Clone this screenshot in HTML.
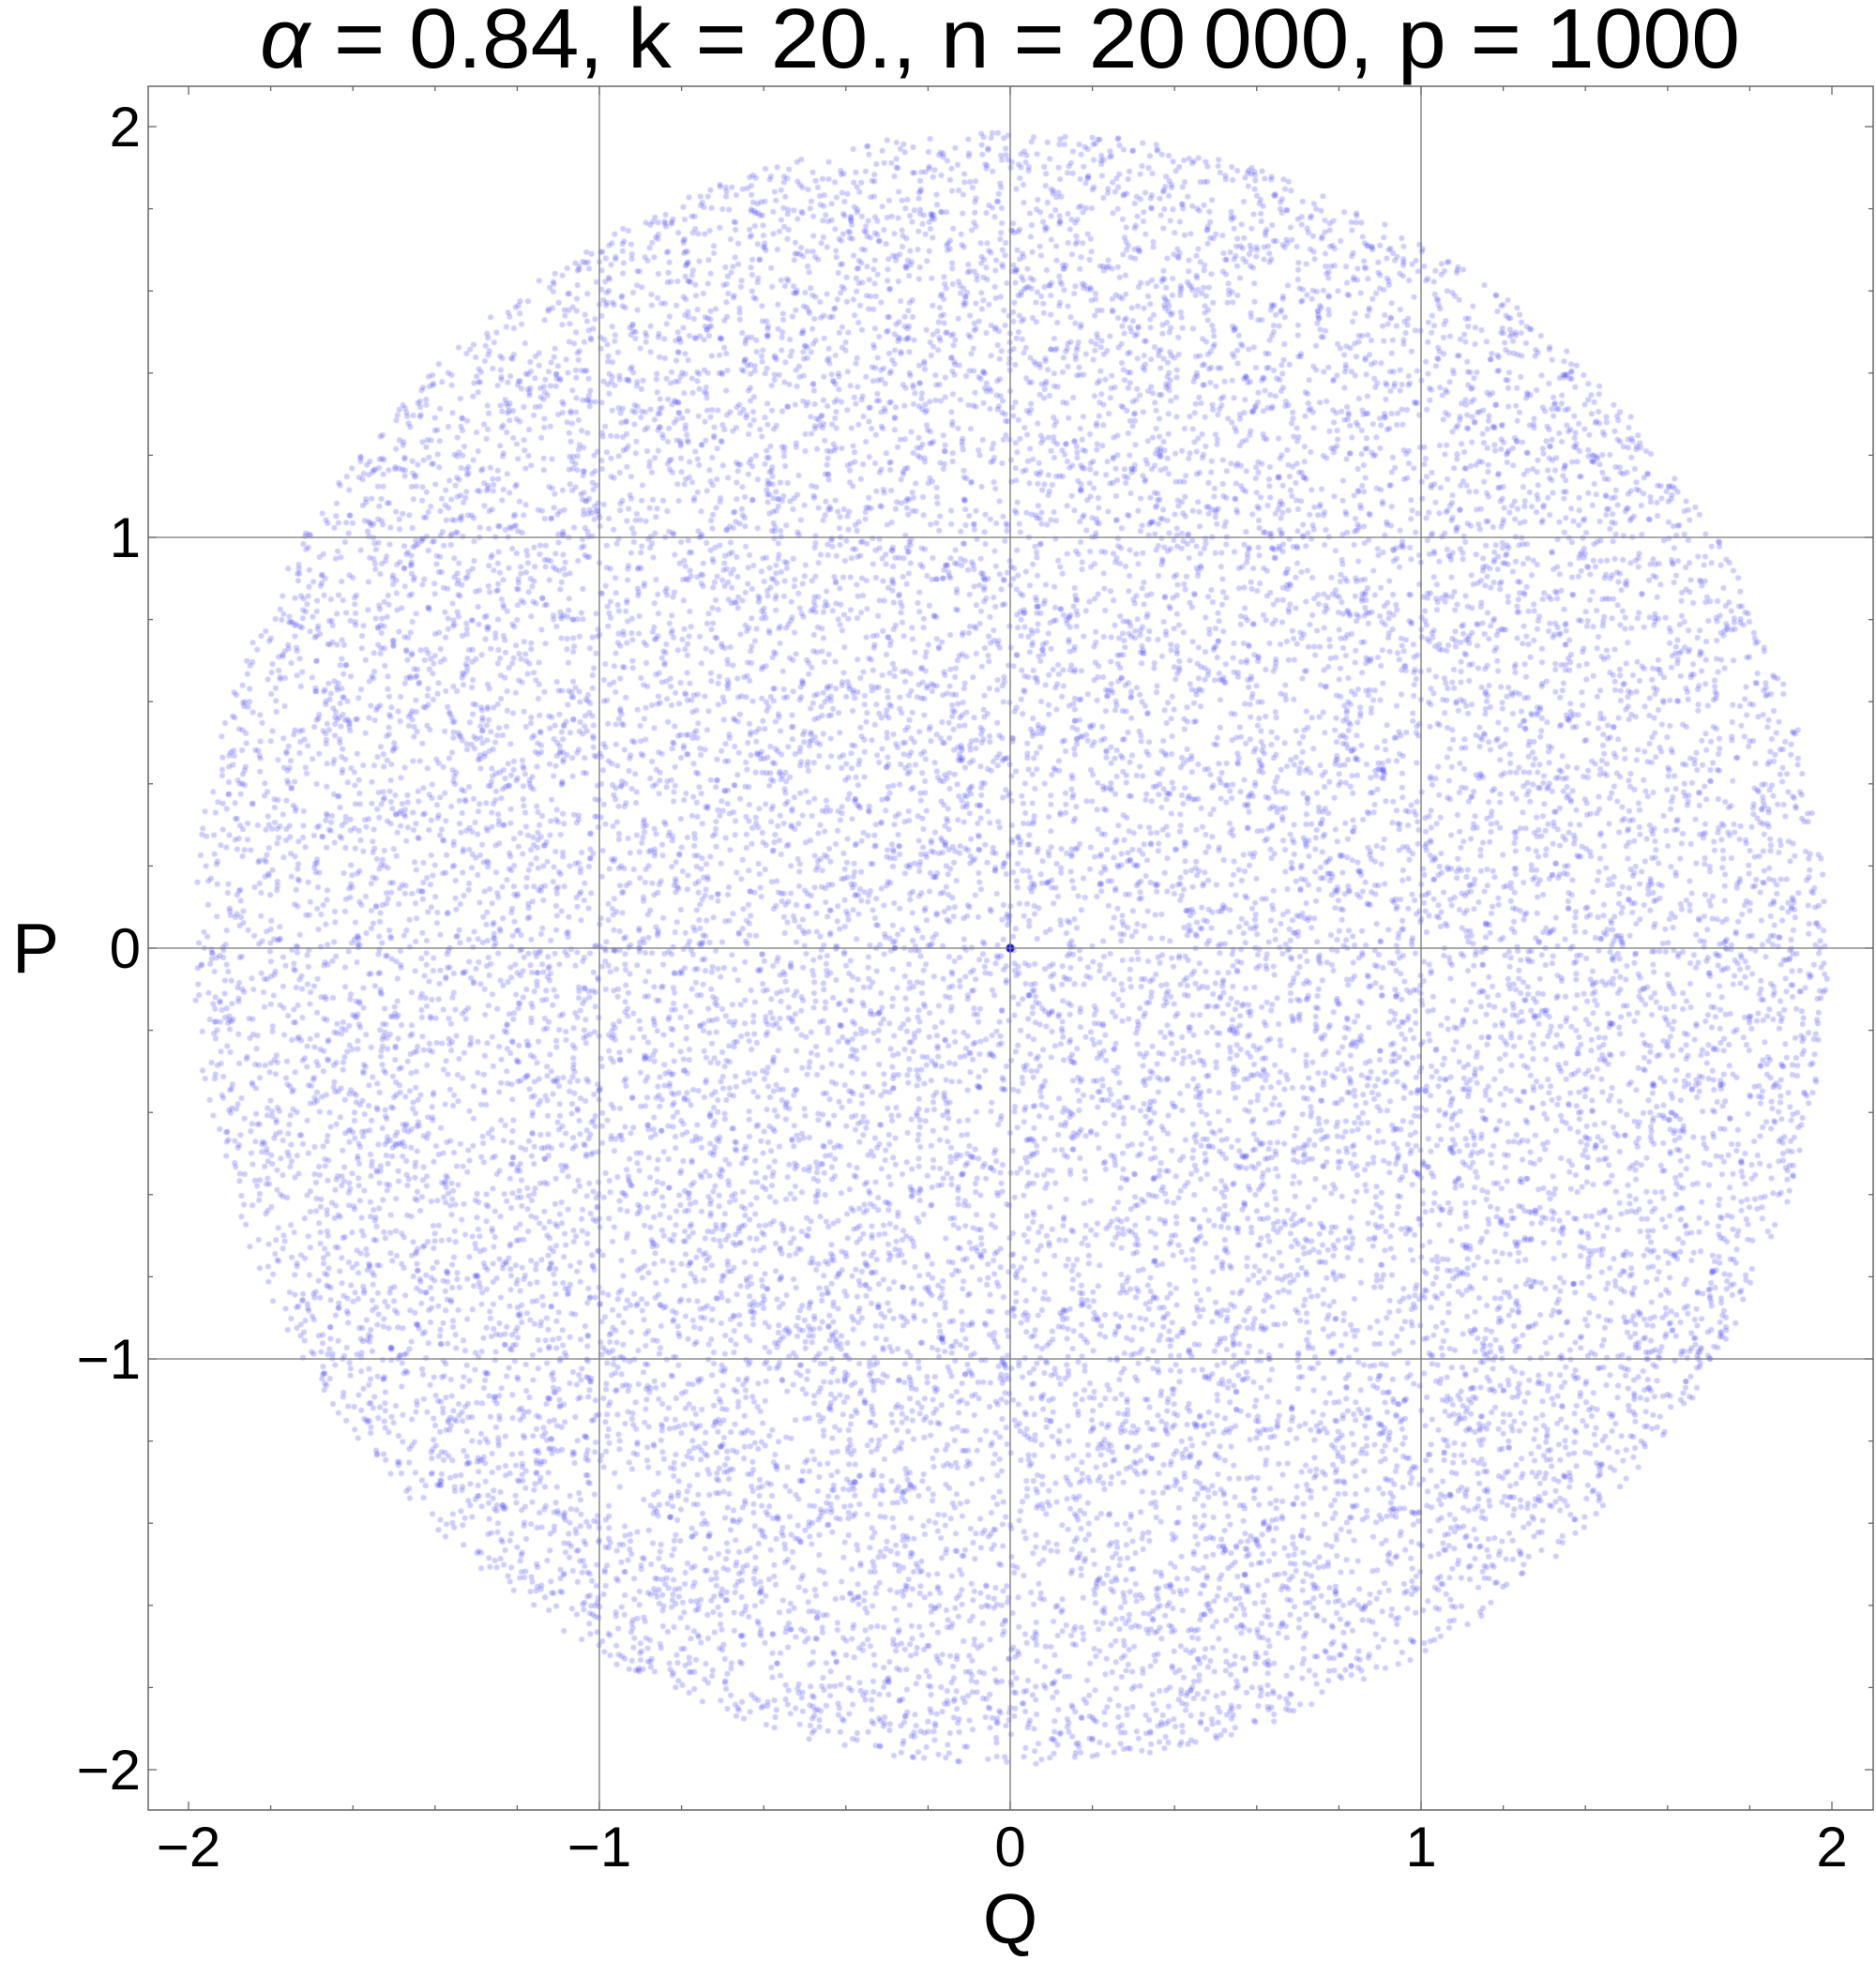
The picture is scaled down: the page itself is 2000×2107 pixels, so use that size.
<!DOCTYPE html>
<html><head><meta charset="utf-8"><style>
html,body{margin:0;padding:0;background:#fff;}
#wrap{position:relative;width:2000px;height:2107px;}
canvas,svg{position:absolute;left:0;top:0;}
text{font-family:"Liberation Sans",sans-serif;fill:#000;}
</style></head><body>
<div id="wrap">
<canvas id="cv" width="2000" height="2107"></canvas>
<svg id="sv" width="2000" height="2107"></svg>
</div>
<script>
// data
const params = {alpha: 0.84, k: 20, n: 20000, p: 1000};
const xTicks = [-2, -1, 0, 1, 2];
const yTicks = [-2, -1, 0, 1, 2];
const xTickLabels = ["\u22122", "\u22121", "0", "1", "2"];
const yTickLabels = ["\u22122", "\u22121", "0", "1", "2"];
const radiusData = [2.0];
const centerPoint = [0, 0];

const X0 = 1077, Y0 = 1011, U = 438;
const L = 158, R = 1997, T = 92, B = 1930;
const sx = q => X0 + q * U;
const sy = p => Y0 - p * U;
const NS = "http://www.w3.org/2000/svg";
const svg = document.getElementById('sv');
function mk(tag, attrs){const e=document.createElementNS(NS,tag);for(const k in attrs)e.setAttribute(k,attrs[k]);svg.appendChild(e);return e;}

// points: deterministic orbit filling the disk
const ctx = document.getElementById('cv').getContext('2d');
let s = 123456789 >>> 0;
function nxt(){ s ^= s << 13; s >>>= 0; s ^= s >>> 17; s ^= s << 5; s >>>= 0; return s / 4294967296; }
ctx.fillStyle = 'rgba(70,70,255,0.27)';
const Rr = radiusData[0];
for (let i = 0; i < params.n; i++) {
  const r = Rr * Math.sqrt(nxt()) * 0.995, th = 2 * Math.PI * nxt();
  const q = r * Math.cos(th), p = r * Math.sin(th);
  ctx.beginPath(); ctx.arc(sx(q), sy(p), 3, 0, 2 * Math.PI); ctx.fill();
}
ctx.fillStyle = '#1010e0';
ctx.beginPath(); ctx.arc(sx(centerPoint[0]), sy(centerPoint[1]), 4.5, 0, 2*Math.PI); ctx.fill();

// grid
xTicks.forEach(v=>{ if(Math.abs(v)<2){ const g=mk('line',{x1:sx(v),x2:sx(v),y1:T,y2:B,stroke:'#777','stroke-width':1.3});
 }});
yTicks.forEach(v=>{ if(Math.abs(v)<2){ const g=mk('line',{x1:L,x2:R,y1:sy(v),y2:sy(v),stroke:'#777','stroke-width':1.3});
 }});
// frame
const fr = mk('rect',{x:L,y:T,width:R-L,height:B-T,fill:'none',stroke:'#666','stroke-width':1.5});
 
// ticks
for (let j = -10; j <= 10; j++) {
  const v = j * 0.2, len = (j % 5 === 0) ? 9 : 5;
  mk('line',{x1:sx(v),x2:sx(v),y1:B,y2:B-len,stroke:'#666','stroke-width':1.3});
  mk('line',{x1:sx(v),x2:sx(v),y1:T,y2:T+len,stroke:'#666','stroke-width':1.3});
  mk('line',{x1:L,x2:L+len,y1:sy(v),y2:sy(v),stroke:'#666','stroke-width':1.3});
  mk('line',{x1:R,x2:R-len,y1:sy(v),y2:sy(v),stroke:'#666','stroke-width':1.3});
}
xTicks.forEach((v,i)=>{ const t=mk('text',{x:sx(v),y:1990,'font-size':60,'text-anchor':'middle'}); t.textContent=xTickLabels[i];
 });
yTicks.forEach((v,i)=>{ const t=mk('text',{x:150,y:sy(v)+21,'font-size':60,'text-anchor':'end'}); t.textContent=yTickLabels[i];
 });
// labels
const xl = mk('text',{x:X0,y:2072,'font-size':75,'text-anchor':'middle'}); xl.textContent='Q';
 
const yl = mk('text',{x:38,y:1037,'font-size':75,'text-anchor':'middle'}); yl.textContent='P';
 
const tt = mk('text',{x:277,y:72,'font-size':90,textLength:1578,lengthAdjust:'spacingAndGlyphs'});
tt.innerHTML = '<tspan font-style="italic">\u03B1</tspan> = 0.84, k = 20., n = 20\u2009000, p = 1000';
 
</script>
</body></html>
